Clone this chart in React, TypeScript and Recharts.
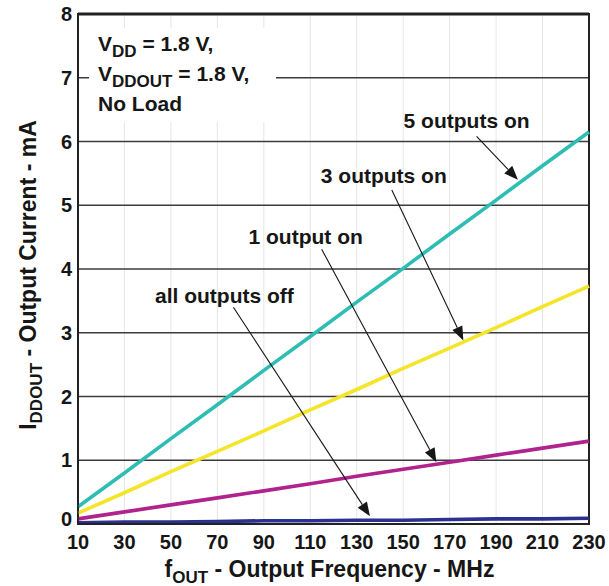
import React from "react";
import { LineChart, Line, XAxis, YAxis, CartesianGrid, ReferenceLine, ReferenceArea } from "recharts";

// output frequency (MHz) and output current (mA)
const FREQS = [10, 30, 50, 70, 90, 110, 130, 150, 170, 190, 210, 230];
const ALL_OFF = [0.02, 0.03, 0.03, 0.04, 0.05, 0.05, 0.06, 0.06, 0.07, 0.08, 0.08, 0.09];
const ONE_ON = [0.08, 0.19, 0.3, 0.41, 0.52, 0.63, 0.75, 0.86, 0.97, 1.08, 1.19, 1.3];
const THREE_ON = [0.17, 0.49, 0.82, 1.14, 1.46, 1.79, 2.11, 2.44, 2.76, 3.08, 3.41, 3.73];
const FIVE_ON = [0.27, 0.8, 1.34, 1.87, 2.41, 2.94, 3.48, 4.01, 4.55, 5.08, 5.62, 6.15];
const Y_TICKS = [0, 1, 2, 3, 4, 5, 6, 7, 8];

// annotation arrows: label text, tail and tip in data units
const ARROWS = [
  { text: "5 outputs on", from: { x: 181.6, y: 6.08 }, to: { x: 199.4, y: 5.4 }, dx: -10, dy: -8 },
  { text: "3 outputs on", from: { x: 145.1, y: 5.24 }, to: { x: 175.9, y: 2.88 }, dx: -8, dy: -7 },
  { text: "1 output on", from: { x: 114.9, y: 4.31 }, to: { x: 164.3, y: 0.97 }, dx: -16, dy: -5 },
  { text: "all outputs off", from: { x: 76.9, y: 3.4 }, to: { x: 135.7, y: 0.12 }, dx: -9, dy: -4 },
];

const data = FREQS.map((f, i) => ({
  f,
  off: ALL_OFF[i],
  one: ONE_ON[i],
  three: THREE_ON[i],
  five: FIVE_ON[i],
}));

const FONT = "'Liberation Sans', Arial, Helvetica, sans-serif";
const INK = "#161616";

function Arrow(props: any) {
  const { x1, y1, x2, y2, text, dx, dy } = props;
  const vx = x2 - x1;
  const vy = y2 - y1;
  const len = Math.sqrt(vx * vx + vy * vy) || 1;
  const ux = vx / len;
  const uy = vy / len;
  const head = 14;
  const half = 5.5;
  const bx = x2 - ux * head;
  const by = y2 - uy * head;
  return (
    <g>
      <line x1={x1} y1={y1} x2={bx} y2={by} stroke={INK} strokeWidth={1.1} />
      <polygon
        points={`${x2},${y2} ${bx - uy * half},${by + ux * half} ${bx + uy * half},${by - ux * half}`}
        fill={INK}
      />
      <text x={x1 + dx} y={y1 + dy} textAnchor="middle" fontFamily={FONT} fontWeight="bold" fontSize={21} fill={INK}>
        {text}
      </text>
    </g>
  );
}

// y tick: the "0" sits a little above the axis line, as in the original
function YTick(props: any) {
  const { x, y, payload } = props;
  const lift = payload.value === 0 ? -5 : 0;
  return (
    <text x={x} y={y + lift} dy="0.355em" textAnchor="end" fontFamily={FONT} fontWeight="bold" fontSize={20} fill={INK}>
      {payload.value}
    </text>
  );
}

function XTitle(props: any) {
  const vb = props.viewBox || { x: 78, y: 524, width: 511, height: 62 };
  const cx = vb.x + vb.width / 2 - 4;
  return (
    <text x={cx} y={vb.y + 53} textAnchor="middle" fontFamily={FONT} fontWeight="bold" fontSize={23} fill={INK}>
      <tspan>f</tspan>
      <tspan fontSize={17} dy={6}>OUT</tspan>
      <tspan dy={-6}> - Output Frequency - MHz</tspan>
    </text>
  );
}

function YTitle(props: any) {
  const vb = props.viewBox || { x: 0, y: 14, width: 78, height: 510 };
  const cy = vb.y + vb.height / 2 + 6;
  const bx = 36;
  return (
    <text
      x={bx}
      y={cy}
      transform={`rotate(-90, ${bx}, ${cy})`}
      textAnchor="middle"
      fontFamily={FONT}
      fontWeight="bold"
      fontSize={23}
      fill={INK}
    >
      <tspan>I</tspan>
      <tspan fontSize={17} dy={6}>DDOUT</tspan>
      <tspan dy={-6}> - Output Current - mA</tspan>
    </text>
  );
}

const sub = { fontSize: 17, position: "relative" as const, top: 6 };

export default function App() {
  return (
    <div style={{ position: "absolute", left: 0, top: 0, width: 609, height: 586, background: "#fff" }}>
      <LineChart width={609} height={586} data={data} margin={{ top: 14, right: 20, left: 0, bottom: 0 }}>
        <CartesianGrid horizontal={false} stroke="#e6e6e6" strokeWidth={1} />
        <CartesianGrid vertical={false} stroke="#3c3c3c" strokeWidth={1.6} />
        <XAxis
          type="number"
          dataKey="f"
          domain={[10, 230]}
          ticks={FREQS}
          interval={0}
          height={62}
          tickSize={0}
          tickMargin={11}
          axisLine={{ stroke: "#222", strokeWidth: 2 }}
          tick={{ fill: INK, fontSize: 20, fontWeight: "bold", fontFamily: FONT }}
          label={XTitle}
        />
        <YAxis
          type="number"
          domain={[0, 8]}
          ticks={Y_TICKS}
          interval={0}
          width={78}
          tickSize={0}
          tickMargin={6}
          axisLine={{ stroke: "#222", strokeWidth: 1.5 }}
          tick={YTick}
          label={YTitle}
        />
        <ReferenceArea x1={10} x2={230} y1={0} y2={8} fill="none" stroke="#222" strokeWidth={2} ifOverflow="visible" />
        <ReferenceLine y={8} stroke="#222" strokeWidth={3} ifOverflow="visible" />
        <Line type="linear" dataKey="five" stroke="#2dbdb3" strokeWidth={3.6} dot={false} isAnimationActive={false} />
        <Line type="linear" dataKey="three" stroke="#f5e52a" strokeWidth={3.6} dot={false} isAnimationActive={false} />
        <Line type="linear" dataKey="one" stroke="#b0228c" strokeWidth={3.6} dot={false} isAnimationActive={false} />
        <Line type="linear" dataKey="off" stroke="#2b3190" strokeWidth={3.6} dot={false} isAnimationActive={false} />
        {ARROWS.map((a) => (
          <ReferenceLine
            key={a.text}
            segment={[a.from, a.to]}
            ifOverflow="visible"
            shape={(p: any) => <Arrow {...p} text={a.text} dx={a.dx} dy={a.dy} />}
          />
        ))}
      </LineChart>
      <div
        style={{
          position: "absolute",
          left: 89,
          top: 28,
          width: 178,
          padding: "2px 0 4px 9px",
          background: "#fff",
          fontFamily: FONT,
          fontWeight: "bold",
          fontSize: 21,
          lineHeight: "28px",
          color: INK,
          whiteSpace: "nowrap",
        }}
      >
        <div>
          V<span style={sub}>DD</span> = 1.8 V,
        </div>
        <div>
          V<span style={sub}>DDOUT</span> = 1.8 V,
        </div>
        <div>No Load</div>
      </div>
    </div>
  );
}
